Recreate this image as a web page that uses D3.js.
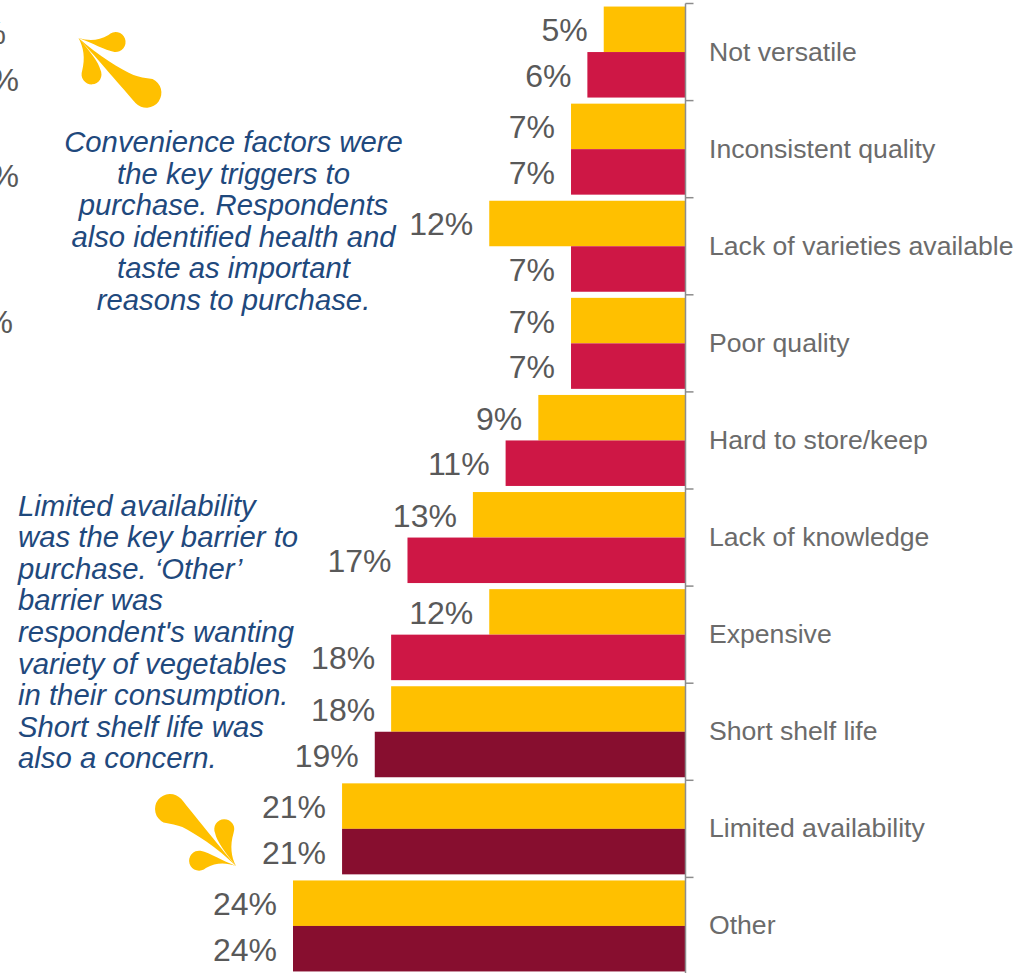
<!DOCTYPE html>
<html>
<head>
<meta charset="utf-8">
<script src="https://cdn.jsdelivr.net/npm/d3@7"></script>
<style>
  html, body { margin: 0; padding: 0; background: #fff; overflow: hidden; }
  svg { display: block; }
</style>
</head>
<body>
<svg id="chart" width="1015" height="973"></svg>
<script>
// Barriers to purchase, two survey groups per category, top to bottom.
const categories = ["Not versatile", "Inconsistent quality", "Lack of varieties available", "Poor quality",
  "Hard to store/keep", "Lack of knowledge", "Expensive", "Short shelf life", "Limited availability", "Other"];
const groupA = [5, 7, 12, 7, 9, 13, 12, 18, 21, 24];
const groupB = [6, 7, 7, 7, 11, 17, 18, 19, 21, 24];
const highlighted = ["Short shelf life", "Limited availability", "Other"];

const noteTop = ["Convenience factors were", "the key triggers to", "purchase. Respondents",
  "also identified health and", "taste as important", "reasons to purchase."];
const noteBottom = ["Limited availability", "was the key barrier to", "purchase. ‘Other’", "barrier was",
  "respondent's wanting", "variety of vegetables", "in their consumption.", "Short shelf life was", "also a concern."];

// Percent signs of the neighbouring panel, cut off by the left edge.
const cutLabels = [{ end: 6, y: 44 }, { end: 19, y: 91 }, { end: 19, y: 187 }, { end: 13, y: 333 }];

const YELLOW = "#FFC000", CRIMSON = "#CE1745", MAROON = "#870E2F", GREY = "#595959", AXIS_TEXT = "#6B6B6B", NAVY = "#1F497D";
const FONT = '"Liberation Sans"';

const svg = d3.select("#chart");
const x = d3.scaleLinear().domain([0, 24]).range([685.5, 293]);
const y = d3.scaleBand().domain(categories).range([3.5, 974.5]);
const inner = d3.scaleBand().domain(["a", "b"]).range([0, y.bandwidth()]).paddingOuter(0.067);

const rows = categories.flatMap((c, i) => [
  { category: c, key: "a", value: groupA[i], fill: YELLOW },
  { category: c, key: "b", value: groupB[i], fill: highlighted.includes(c) ? MAROON : CRIMSON }
]);

// Bars grow leftward from the axis.
svg.append("g").selectAll("rect").data(rows).join("rect")
  .attr("x", d => x(d.value))
  .attr("y", d => y(d.category) + inner(d.key))
  .attr("width", d => x(0) - x(d.value))
  .attr("height", inner.bandwidth())
  .attr("fill", d => d.fill);

// Value labels sit just left of each bar.
svg.append("g").selectAll("text").data(rows).join("text")
  .attr("x", d => x(d.value) - 16)
  .attr("y", d => y(d.category) + inner(d.key) + inner.bandwidth() / 2 + 12)
  .attr("text-anchor", "end")
  .style("font-family", FONT).style("font-size", "32px")
  .attr("fill", GREY)
  .text(d => d.value + "%");

// Axis spine with ticks on category boundaries, labels through d3.axisRight.
const axisG = svg.append("g").attr("transform", `translate(${x(0)},0)`);
axisG.call(d3.axisRight(y).tickSize(0).tickPadding(23.5));
axisG.select(".domain").remove();
axisG.selectAll("text").style("font-family", FONT).style("font-size", "26.6px").attr("fill", AXIS_TEXT);

const edges = categories.map(c => y(c)).concat(y.range()[1]);
axisG.append("path")
  .attr("d", `M0,${edges[0]}V${edges[edges.length - 1]}`)
  .attr("stroke", "#8C8C8C").attr("stroke-width", 1.5).attr("fill", "none");
axisG.selectAll("line.edge").data(edges).join("line")
  .attr("class", "edge")
  .attr("x1", 0).attr("x2", 8)
  .attr("y1", d => d).attr("y2", d => d)
  .attr("stroke", "#8C8C8C").attr("stroke-width", 1.5);

// Callout notes.
svg.append("g").selectAll("text").data(noteTop).join("text")
  .attr("x", 233.5).attr("y", (d, i) => 152 + i * 31.6)
  .attr("text-anchor", "middle")
  .style("font-family", FONT).style("font-size", "29.3px").style("font-style", "italic")
  .attr("fill", NAVY).text(d => d);
svg.append("g").selectAll("text").data(noteBottom).join("text")
  .attr("x", 18).attr("y", (d, i) => 515.5 + i * 31.6)
  .style("font-family", FONT).style("font-size", "29.3px").style("font-style", "italic")
  .attr("fill", NAVY).text(d => d);

svg.append("g").selectAll("text").data(cutLabels).join("text")
  .attr("x", d => d.end).attr("y", d => d.y)
  .attr("text-anchor", "end").style("font-family", FONT).style("font-size", "32px").attr("fill", GREY).text("%");

// Decorative three-petal splash pointing at its tip; drawn around the origin.
const splash = "M0,0C20,18 42,31 55,37C60,39 67,40 74,41A15,15 0 1 1 57,65C44,50 20,22 0,0Z" +
  "M0,0C5,9 7,20 3.6,33A10,10 0 1 0 22,32C20,24 12,14 0,0Z" +
  "M0,0C10,3 20,3 30,-3A10,10 0 1 1 36,14C26,12 14,5 0,0Z";
svg.append("path").attr("d", splash).attr("fill", YELLOW).attr("transform", "translate(78.5,38)");
svg.append("path").attr("d", splash).attr("fill", YELLOW).attr("transform", "translate(236,866) rotate(182)");
</script>
</body>
</html>
